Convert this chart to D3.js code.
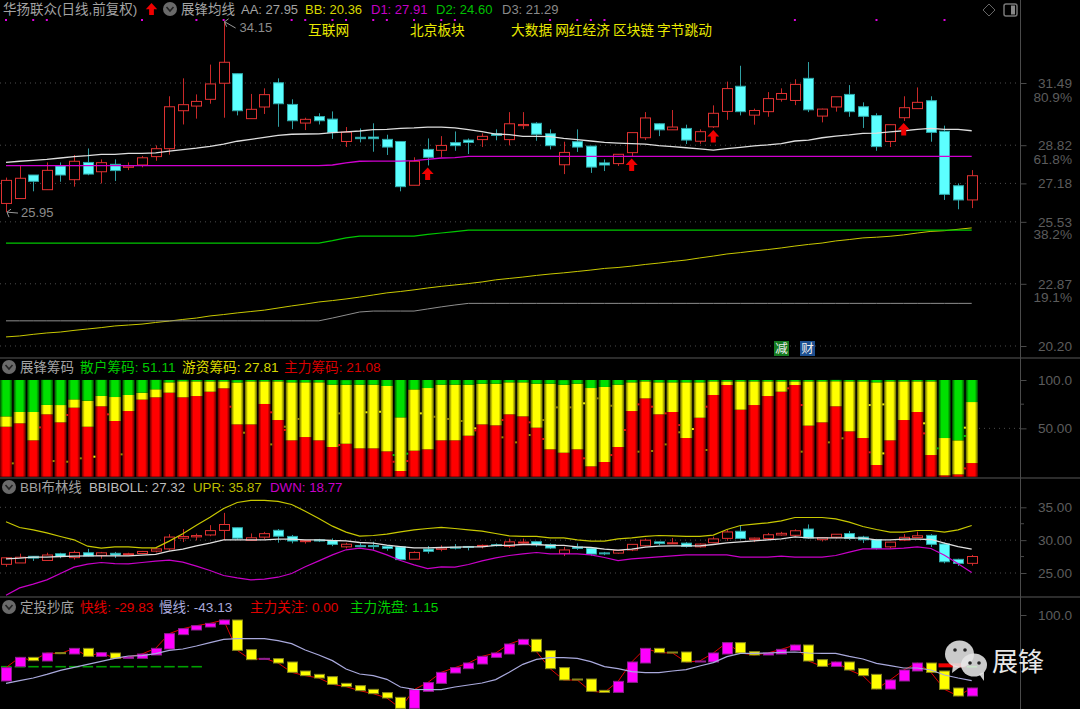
<!DOCTYPE html>
<html><head><meta charset="utf-8">
<script src="https://cdn.jsdelivr.net/npm/d3@7"></script>
<style>
html,body{margin:0;padding:0;background:#000;overflow:hidden}
svg{display:block;font-family:"Liberation Sans","Noto Sans CJK SC",sans-serif}
</style></head><body><svg id="c" width="1080" height="709"></svg>
<script>
// ---------- price panel ----------
const candleOpen=[26.32,26.53,27.54,26.91,27.93,27.34,28.08,27.68,28.00,27.87,27.97,28.33,28.67,30.30,30.50,30.79,31.48,31.89,29.96,30.46,31.50,30.57,29.77,30.05,29.94,28.98,29.16,29.17,29.07,28.98,27.10,28.64,28.60,28.93,29.04,29.06,29.31,29.06,29.66,29.76,29.31,27.98,28.97,28.78,28.06,28.03,28.50,29.14,29.74,29.48,29.54,28.99,29.61,30.27,31.35,30.11,30.26,30.79,30.74,31.69,30.07,30.46,31.00,30.47,30.09,28.98,30.00,30.39,30.73,29.42,27.08,26.47];
const candleClose=[27.31,27.40,27.27,27.74,27.54,28.13,27.58,28.07,27.73,27.93,28.28,28.67,30.47,30.56,30.70,31.45,32.38,30.30,30.36,30.99,30.60,29.87,29.93,29.87,29.36,29.38,29.10,29.10,28.74,27.04,28.13,28.30,28.81,28.80,28.94,29.20,29.24,29.74,29.71,29.29,28.80,28.51,28.74,27.88,27.97,28.43,29.36,29.99,29.48,29.60,29.04,29.40,30.19,31.25,30.26,30.31,30.82,31.04,31.43,30.34,30.37,30.90,30.26,30.06,28.76,29.70,30.43,30.66,29.37,26.71,26.47,27.51];
const candleHigh=[27.43,27.94,27.54,28.08,28.08,28.40,28.68,28.21,28.21,28.08,28.36,28.81,30.92,31.69,31.00,32.28,34.15,31.89,31.02,31.26,31.69,30.79,30.00,30.19,30.27,29.60,29.54,29.76,29.27,28.98,28.30,29.11,29.21,29.41,29.11,29.33,29.50,30.24,30.24,29.81,29.50,28.97,29.50,28.78,28.21,28.44,29.36,30.24,29.76,30.33,29.70,29.50,30.53,31.55,32.23,30.39,31.10,31.26,31.65,32.39,30.39,30.90,31.40,30.66,30.19,29.70,30.92,31.30,30.92,29.66,27.18,27.75];
const candleLow=[25.95,26.53,26.84,26.91,27.25,27.04,27.53,27.18,27.28,27.75,27.87,28.15,28.41,29.71,29.96,30.60,30.00,30.10,29.96,30.16,29.61,29.51,29.47,29.71,29.09,28.74,28.94,28.54,28.40,26.84,27.10,27.95,28.30,28.58,28.44,28.74,29.03,28.81,29.51,29.01,28.64,27.58,28.53,27.63,27.71,27.93,28.33,29.04,29.21,29.48,28.87,28.88,29.56,29.91,30.10,29.70,30.04,30.69,30.54,30.24,29.80,30.26,30.04,29.56,28.58,28.74,29.86,30.39,28.97,26.47,26.07,26.12];
const lineAA=[28.08,28.13,28.17,28.21,28.27,28.33,28.37,28.43,28.43,28.47,28.47,28.49,28.57,28.63,28.69,28.77,28.87,28.99,29.07,29.16,29.24,29.29,29.30,29.31,29.36,29.39,29.43,29.49,29.50,29.54,29.56,29.60,29.60,29.56,29.49,29.40,29.30,29.27,29.20,29.20,29.19,29.11,29.06,29.00,28.94,28.91,28.89,28.87,28.80,28.76,28.71,28.66,28.61,28.67,28.73,28.79,28.83,28.89,29.00,29.04,29.14,29.21,29.26,29.33,29.34,29.39,29.44,29.50,29.54,29.50,29.50,29.44];
const lineD1=[27.94,27.94,27.94,27.94,27.94,27.94,27.94,27.94,27.94,27.94,27.94,27.94,27.94,27.94,27.94,27.94,27.94,27.94,27.94,27.94,27.94,27.94,27.94,27.94,27.97,28.06,28.13,28.14,28.14,28.14,28.16,28.21,28.27,28.29,28.34,28.34,28.34,28.34,28.34,28.34,28.34,28.34,28.34,28.34,28.34,28.34,28.34,28.34,28.34,28.34,28.34,28.34,28.34,28.34,28.34,28.34,28.34,28.34,28.34,28.34,28.34,28.34,28.34,28.34,28.34,28.34,28.34,28.34,28.34,28.34,28.34,28.34];
const lineD2=[24.62,24.62,24.62,24.62,24.62,24.62,24.62,24.62,24.62,24.62,24.62,24.62,24.62,24.62,24.62,24.62,24.62,24.62,24.62,24.62,24.62,24.62,24.62,24.62,24.72,24.84,24.92,24.92,24.92,24.92,24.92,24.99,25.05,25.11,25.17,25.17,25.17,25.17,25.17,25.17,25.17,25.17,25.17,25.17,25.17,25.17,25.17,25.17,25.17,25.17,25.17,25.17,25.17,25.17,25.17,25.17,25.17,25.17,25.17,25.17,25.17,25.17,25.17,25.17,25.17,25.17,25.17,25.17,25.17,25.17,25.17,25.17];
const lineD3=[21.28,21.28,21.28,21.28,21.28,21.28,21.28,21.28,21.28,21.28,21.28,21.28,21.28,21.28,21.28,21.28,21.28,21.28,21.28,21.28,21.28,21.28,21.28,21.28,21.40,21.53,21.66,21.70,21.70,21.70,21.70,21.79,21.88,21.96,22.03,22.03,22.03,22.03,22.03,22.03,22.03,22.03,22.03,22.03,22.03,22.03,22.03,22.03,22.03,22.03,22.03,22.03,22.03,22.03,22.03,22.03,22.03,22.03,22.03,22.03,22.03,22.03,22.03,22.03,22.03,22.03,22.03,22.03,22.03,22.03,22.03,22.03];
const lineBB=[20.59,20.63,20.70,20.76,20.80,20.87,20.93,20.99,21.06,21.10,21.14,21.21,21.27,21.34,21.40,21.49,21.55,21.62,21.68,21.74,21.83,21.92,22.00,22.09,22.15,22.22,22.30,22.39,22.48,22.54,22.61,22.69,22.76,22.82,22.88,22.95,23.04,23.10,23.16,23.23,23.29,23.34,23.40,23.46,23.53,23.57,23.63,23.70,23.76,23.83,23.89,23.98,24.06,24.15,24.21,24.28,24.34,24.41,24.49,24.56,24.62,24.71,24.77,24.84,24.87,24.91,24.97,25.05,25.12,25.15,25.21,25.27];
const eventDays=[0,2,3,10,14,16,21,22,24,25,27,28,30,32,33,40,42,43,44,58,64,69];
const arrowDays=[31,46,52,66];
const conceptLabels=[["互联网",308],["北京板块",410],["大数据 网红经济 区块链 字节跳动",511]];
const priceTicks=[31.49,28.82,27.18,25.53,22.87,20.20];
const pctTicks=[[30.93,"80.9%"],[28.27,"61.8%"],[25.01,"38.2%"],[22.31,"19.1%"]];
// ---------- chip panel ----------
const chipMain=[51.7,55.2,37.6,64.5,56.2,71.4,51.7,72.8,57.6,67.9,79.7,82.1,86.9,82.1,83.4,87.9,91.4,54.1,54.1,75.2,58.6,37.6,41.0,37.6,30.7,34.1,29.3,29.3,26.2,5.9,26.9,28.3,37.6,37.6,42.4,54.1,53.1,64.5,62.4,50.7,28.3,24.8,28.3,10.7,15.2,30.7,67.9,81.0,64.5,66.9,40.0,61.0,84.5,94.8,69.3,74.1,83.4,87.9,94.8,52.8,56.2,72.8,46.9,40.0,12.1,37.6,58.6,66.9,22.4,1.4,2.4,14.1];
const chipHot=[10.7,11.7,29.3,9.7,17.9,8.6,26.9,10.7,24.8,16.6,7.2,8.3,10.7,16.6,15.2,10.7,7.2,43.4,44.5,23.4,40.0,60.0,56.6,60.0,64.5,61.0,65.9,65.9,67.6,55.5,63.4,63.4,57.6,57.6,52.8,42.1,43.1,33.1,35.2,45.5,67.9,70.3,67.9,81.0,77.6,64.5,29.7,17.6,33.1,30.7,57.6,36.6,14.1,3.8,29.3,24.5,15.2,10.7,3.8,45.8,42.4,25.9,51.7,58.6,85.5,61.0,40.0,31.7,76.2,38.6,35.2,63.1];
const chipRetail=[37.6,33.1,33.1,25.9,25.9,20.0,21.4,16.6,17.6,15.5,13.1,9.7,2.4,1.4,1.4,1.4,1.4,2.4,1.4,1.4,1.4,2.4,2.4,2.4,4.8,4.8,4.8,4.8,6.2,38.6,9.7,8.3,4.8,4.8,4.8,3.8,3.8,2.4,2.4,3.8,3.8,4.8,3.8,8.3,7.2,4.8,2.4,1.4,2.4,2.4,2.4,2.4,1.4,1.4,1.4,1.4,1.4,1.4,1.4,1.4,1.4,1.4,1.4,1.4,2.4,1.4,1.4,1.4,1.4,60.0,62.4,22.8];
const chipTicks=[100,50];
const speckDay=[2.5,4.5,7.5,6.5,8.5,0.5,4.5,3.5,5.5,16.5,17.5,19.5,19.5,20.5,20.5,21.5,24.5,24.5,26.5,27.5,28.5,28.5,29.5,29.5,30.5,31.5,32.5,33.5,34.5,34.5,36.5,36.5,37.5,38.5,38.5,39.5,39.5,40.5,41.5,42.5,42.5,43.5,44.5,44.5,45.5,46.5,46.5,47.5,47.5,48.5,48.5,49.5,49.5,50.5,51.5,51.5,57.5,58.5,58.5,60.5,61.5,63.5,64.5,63.5,64.5,67.5,67.5,68.5,70.5,70.5,70.5];
const speckValue=[51,63.8,64.5,20.7,23.1,13.8,15.5,16.2,19,72.4,45.5,33.4,66.6,51.7,48.3,59.7,65.5,32.8,66.6,67.2,22.4,15.5,23.8,16.2,65.5,62,59.7,57.6,50,47.9,58.6,40.7,35.5,56.2,43.1,58.6,39,71.7,71.7,75.9,19,81,73.4,22.4,48.3,74.8,25.9,72.4,26.6,65.5,33.4,53.4,45.9,49.3,72.4,27.6,91.4,74.1,25.9,35.5,39.7,74.1,74.8,25.2,24.1,55.2,44.8,29.3,50.7,42.1,8.6];
const speckKind=["r","r","r","y","o","o","o","o","o","r","o","o","r","o","r","o","o","r","y","y","g","r","g","r","y","o","o","o","y","r","r","o","o","r","o","o","r","o","o","y","r","o","o","r","r","r","o","r","o","r","o","r","o","y","r","o","r","r","o","o","o","y","y","r","y","y","r","g","y","g","r"];
// ---------- BBI panel ----------
const bbiMid=[27.16,27.26,27.41,27.41,27.51,27.56,27.61,27.61,27.61,27.61,27.71,27.82,28.32,28.63,29.13,29.54,30.05,30.05,30.05,30.05,30.15,30.15,30.05,30.05,29.95,29.90,29.64,29.54,29.24,29.03,28.83,28.83,28.88,28.93,28.98,28.98,29.19,29.19,29.34,29.34,29.19,29.19,28.98,28.88,28.63,28.48,28.63,28.93,29.08,29.13,29.13,29.13,29.34,29.59,29.74,29.90,30.05,30.20,30.51,30.35,30.35,30.35,30.35,30.30,30.05,30.05,30.15,30.15,30.10,29.54,29.03,28.63];
const bbiUpper=[32.79,31.93,31.57,31.11,30.56,30.05,29.08,28.78,28.98,28.98,28.83,28.83,29.85,30.96,32.28,33.50,34.82,35.73,36.04,36.04,35.89,35.43,34.41,33.30,32.13,31.22,30.61,30.71,30.91,31.27,31.57,31.77,31.93,31.77,31.57,31.37,31.01,30.66,30.56,30.56,30.35,30.35,30.05,29.85,29.85,30.20,30.35,30.56,30.71,30.66,30.56,30.56,30.76,31.62,32.23,32.43,32.64,32.94,33.45,33.45,33.45,33.25,32.74,32.08,31.62,31.22,31.22,31.47,31.47,31.22,31.57,32.23];
const bbiLower=[21.62,22.74,23.30,23.96,24.92,25.89,26.34,26.60,26.44,26.39,26.60,26.80,26.95,26.65,26.04,25.38,24.62,24.26,23.96,24.06,24.36,24.92,25.94,26.85,27.76,28.53,28.78,28.47,27.76,26.90,26.24,25.68,25.94,25.89,26.29,26.85,27.31,27.66,27.92,28.12,27.92,27.92,27.92,27.76,27.36,26.90,27.16,27.31,27.46,27.61,27.76,27.76,27.76,27.76,27.41,27.41,27.41,27.56,27.41,27.41,27.41,27.66,28.17,28.68,28.68,28.68,28.78,28.98,28.73,27.71,26.39,25.07];
const bbiTicks=[35,30,25];
// ---------- bottom panel ----------
const fastOpen=[-32,-3.3,15.3,8,24.7,22,33.3,17.3,24,13.3,13.3,20,32,60.7,70,76,81.3,90,30.7,11.3,12.7,6,-12,-18.7,-23.3,-36.7,-41.3,-48.7,-55.3,-64.7,-86.7,-52.7,-36.7,-16,-7.3,2,15.3,22,40.7,51.3,28.7,-5.3,-28,-28,-50.7,-54.7,-34.7,4,33.3,26,26,6,6,22,44.7,26.7,20,22,28.7,40,10.7,-2.7,6,-7.3,-18.7,-48,-32,-12,4,-12,-46,-62];
const fastClose=[-5.3,15.3,8.7,24,22.7,33.3,17.3,24.7,13.3,16,22,33.3,62.7,72.7,78.7,83.3,90,29.3,10.7,13.3,4,-14.7,-21.3,-26,-38.7,-43.3,-51.3,-57.3,-66,-86.7,-49.3,-35.3,-14.7,-5.3,4,17.3,24,42,51.3,26.7,-7.3,-30,-30,-52.7,-54.7,-32.7,6,33.3,24.7,24,6,8,24,44.7,24,20,24,31.3,40,8,-2.7,6,-10,-21.3,-48,-30,-10,4,-14.7,-48.7,-62,-46];
const slowLine=[-36.7,-31.3,-26,-18.7,-10.7,-4.7,1.3,7.3,13.3,18,18.7,22.7,29.3,32,38,44.7,51.3,52.7,52.7,52.7,48.7,42.7,30,20,8.7,-8,-18,-21.3,-28.7,-44,-48.7,-49.3,-49.3,-44,-40,-36,-29.3,-14.7,1.3,11.3,14.7,14.7,13.3,6.7,-3.3,-7.3,-13.3,-15.3,-15.3,-12,-9.3,-2,4.7,16.7,23.3,23.3,24,25.3,26,24,23.3,23.3,17.3,12,3.3,-1.3,-6,-6,-10,-20,-26,-31.3];
const washDays=[0,1,2,3,4,5,6,7,8,9,10,11,12,13,14,71];
const washLevel=-3.3;
const focusDays=[69,70];
const focusLevel=-0.7;
const bottomTicks=[100];

const W=1080,n=candleOpen.length,svg=d3.select("#c");
const CJK='"Noto Sans CJK SC","Liberation Sans",sans-serif';
svg.append("rect").attr("width",W).attr("height",709).attr("fill","#000");
const x=d3.scaleLinear().domain([0,71]).range([6,971.7]);
const yP=d3.scaleLinear().domain([31.49,20.20]).range([83,346]);
const yC=d3.scaleLinear().domain([100,0]).range([380,476.7]);
const yB=d3.scaleLinear().domain([35,25]).range([507.3,573]);
const yF=d3.scaleLinear().domain([100,0]).range([615,665]);
const defs=svg.append("defs");
[["gr","#5a0000","#ff0000"],["gy","#5e5e00","#ffff00"],["gg","#004c00","#00e000"]].forEach(([id,e,c])=>{
  const g=defs.append("linearGradient").attr("id",id);
  [[0,e],[.25,c],[.75,c],[1,e]].forEach(([o,k])=>g.append("stop").attr("offset",o).attr("stop-color",k));
});
// frames
const frame=svg.append("g").attr("stroke","#2c2c2c").attr("stroke-width",2);
[358,478,597].forEach(y=>frame.append("line").attr("x1",0).attr("x2",W).attr("y1",y).attr("y2",y));
svg.append("line").attr("x1",1020.5).attr("x2",1020.5).attr("y1",0).attr("y2",709).attr("stroke","#4a4a4a");
// grids + axes
function grid(vals,s,x1=0,x2=1020){svg.append("g").selectAll("line").data(vals).join("line")
  .attr("x1",x1).attr("x2",x2).attr("y1",d=>s(d)).attr("y2",d=>s(d))
  .attr("stroke","#4c4c4c").attr("stroke-dasharray","1 4");}
function axis(s,vals,fmt){
  const g=svg.append("g").attr("transform","translate(1020.5,0)")
    .call(d3.axisRight(s).tickValues(vals).tickFormat(fmt).tickSize(6).tickSizeOuter(0));
  g.select(".domain").remove();
  g.selectAll("line").attr("stroke","#4a4a4a");
  g.selectAll("text").attr("x",51.5).attr("text-anchor","end").attr("fill","#5c5c5c").attr("font-size",13.6)
    .attr("font-family",'"Liberation Sans",sans-serif');
}
grid(priceTicks,yP);grid(chipTicks.slice(1),yC,979);grid(bbiTicks,yB);
axis(yP,priceTicks,d3.format(".2f"));
axis(yC,chipTicks,d=>d==100?"100.0":"50.00");
axis(yB,bbiTicks,d3.format(".2f"));
axis(yF,bottomTicks,()=>"100.0");
svg.append("g").selectAll("text").data(pctTicks).join("text").attr("x",1072).attr("y",d=>yP(d[0])+5.5).attr("text-anchor","end")
  .attr("fill","#5c5c5c").attr("font-size",13.6).text(d=>d[1]);
// minor ticks
[[yC,[75]],[yB,[32.5,27.5]]].forEach(([s,v])=>svg.append("g").selectAll("line").data(v).join("line")
  .attr("x1",1021).attr("x2",1024).attr("y1",d=>s(d)).attr("y2",d=>s(d)).attr("stroke","#4a4a4a"));

const lineOf=(arr,s)=>d3.line().x((d,i)=>x(i)).y(d=>s(d))(arr);
function drawLine(arr,s,c,w=1.2){svg.append("path").attr("d",lineOf(arr,s)).attr("fill","none").attr("stroke",c).attr("stroke-width",w);}
function candles(s){
  const idx=d3.range(n),g=svg.append("g");
  g.selectAll("line").data(idx).join("line").attr("x1",i=>Math.round(x(i))+.5).attr("x2",i=>Math.round(x(i))+.5)
    .attr("y1",i=>s(candleHigh[i])).attr("y2",i=>s(candleLow[i]))
    .attr("stroke",i=>candleClose[i]>=candleOpen[i]?"#c82828":"#2f9fa3").attr("stroke-width",1);
  g.selectAll("rect").data(idx).join("rect")
    .attr("x",i=>Math.round(x(i))-4.5).attr("width",10)
    .attr("y",i=>s(Math.max(candleOpen[i],candleClose[i])))
    .attr("height",i=>Math.max(1,Math.abs(s(candleOpen[i])-s(candleClose[i]))))
    .attr("fill",i=>candleClose[i]>=candleOpen[i]?"#000":"#5cffff")
    .attr("stroke",i=>candleClose[i]>=candleOpen[i]?"#e03232":"#2fa8aa").attr("stroke-width",1);
}
// price
drawLine(lineBB,yP,"#c8c800",1);
drawLine(lineD3,yP,"#8e8e8e",1);
drawLine(lineD2,yP,"#00c800",1.2);
candles(yP);
drawLine(lineAA,yP,"#dedede",1.3);
drawLine(lineD1,yP,"#d000d0",1.3);
svg.append("g").selectAll("rect").data(eventDays).join("rect").attr("x",d=>x(d)-1).attr("y",19).attr("width",2).attr("height",2).attr("fill","#e000e0");
function arrowPath(cx,top,s=1){const p=d3.path();p.moveTo(cx,top);p.lineTo(cx+6*s,top+6.5*s);p.lineTo(cx+2.5*s,top+6.5*s);p.lineTo(cx+2.5*s,top+12.5*s);
  p.lineTo(cx-2.5*s,top+12.5*s);p.lineTo(cx-2.5*s,top+6.5*s);p.lineTo(cx-6*s,top+6.5*s);p.closePath();return p.toString();}
svg.append("g").selectAll("path").data(arrowDays).join("path").attr("d",d=>arrowPath(x(d),yP(candleLow[d])+2)).attr("fill","#f00000");
conceptLabels.forEach(([t,px])=>svg.append("text").attr("x",px).attr("y",35).attr("fill","#e8e800").attr("font-size",13.7).attr("font-family",CJK).text(t));
// high / low notes
const hi=16,lo=0;
function note(i,val,dx,dy){
  const px=x(i),py=yP(val);
  const g=svg.append("g").attr("stroke","#999").attr("fill","none");
  g.append("path").attr("d",`M${px+1},${py+dy*.1}L${px+12},${py+dy}M${px+1},${py+dy*.1}l4,-3M${px+1},${py+dy*.1}l2,5`);
  svg.append("text").attr("x",px+dx).attr("y",py+dy+4).attr("fill","#8c8c8c").attr("font-size",13).text(d3.format(".2f")(val));
}
note(hi,candleHigh[hi],16,7);
note(lo,candleLow[lo],15,1);
// badges
[["减",774,"#157a20"],["财",800,"#1c4f90"]].forEach(([t,px,c])=>{
  svg.append("rect").attr("x",px).attr("y",341).attr("width",15).attr("height",15).attr("fill",c);
  svg.append("text").attr("x",px+7.5).attr("y",353).attr("text-anchor","middle").attr("fill","#eee").attr("font-size",12.5).attr("font-family",CJK).text(t);
});
// chips
const rows=d3.range(n).map(i=>({i,main:chipMain[i],hot:chipHot[i],retail:chipRetail[i]}));
const stack=d3.stack().keys(["main","hot","retail"])(rows);
const fills={main:"url(#gr)",hot:"url(#gy)",retail:"url(#gg)"};
svg.append("g").selectAll("g").data(stack).join("g").attr("fill",d=>fills[d.key])
 .selectAll("rect").data(d=>d).join("rect")
 .attr("x",d=>x(d.data.i)-6).attr("width",12.2)
 .attr("y",d=>yC(d[1])).attr("height",d=>Math.max(0,yC(d[0])-yC(d[1])));
const speckColor={r:"#e81010",y:"#f0f000",o:"#9a8a00",g:"#00c000"};
svg.append("g").selectAll("rect").data(speckDay).join("rect")
  .attr("x",d=>x(d)-1).attr("width",2).attr("height",2)
  .attr("y",(d,i)=>yC(speckValue[i])-1).attr("fill",(d,i)=>speckColor[speckKind[i]]);
// BBI
candles(yB);
drawLine(bbiMid,yB,"#e0e0e0",1.3);
drawLine(bbiUpper,yB,"#c8c800",1.2);
drawLine(bbiLower,yB,"#c800c8",1.2);
// bottom panel
svg.append("g").selectAll("rect").data(washDays).join("rect").attr("x",d=>x(d)-5).attr("width",10.5)
  .attr("y",yF(washLevel)-.75).attr("height",1.6).attr("fill",d=>d==71?"#00e000":"#00a000");
svg.append("g").selectAll("rect").data(focusDays).join("rect").attr("x",d=>x(d)-6).attr("width",13.6)
  .attr("y",yF(focusLevel)-2).attr("height",4).attr("fill","#f00000");
drawLine(fastClose,yF,"#e00000",1);
svg.append("g").selectAll("rect").data(d3.range(n)).join("rect")
  .attr("x",i=>Math.round(x(i))-4.5).attr("width",10)
  .attr("y",i=>yF(Math.max(fastOpen[i],fastClose[i])))
  .attr("height",i=>Math.max(1,Math.abs(yF(fastOpen[i])-yF(fastClose[i]))))
  .attr("fill",i=>fastClose[i]>=fastOpen[i]?"#ff00ff":"#ffff00")
  .attr("stroke",i=>fastClose[i]>=fastOpen[i]?"#8e1f8e":"#85851a").attr("stroke-width",1);
drawLine(slowLine,yF,"#a9a9dc",1.2);
// legends
function btn(y){svg.append("circle").attr("cx",9).attr("cy",y).attr("r",7).attr("fill","#6a6a6a");
  svg.append("path").attr("d",`M5.5,${y-2}L9,${y+2}L12.5,${y-2}`).attr("fill","none").attr("stroke","#222").attr("stroke-width",1.6);}
function legend(items,y){items.forEach(([t,px,c,fs])=>svg.append("text").attr("x",px).attr("y",y).attr("fill",c).attr("font-size",fs||13).text(t));}
const legendGrey="#a3a3a3";
svg.append("circle").attr("cx",170).attr("cy",9).attr("r",7).attr("fill","#6a6a6a");
svg.append("path").attr("d","M166.5,7L170,11L173.5,7").attr("fill","none").attr("stroke","#222").attr("stroke-width",1.6);
svg.append("path").attr("d",arrowPath(151.5,3,.95)).attr("fill","#f00000");
legend([["华扬联众(日线,前复权)",3,legendGrey,13.5],["展锋均线",181,legendGrey,13.5],["AA: 27.95",241,legendGrey],["BB: 20.36",305,"#d8d800"],["D1: 27.91",371,"#c400c4"],["D2: 24.60",436,"#00c000"],["D3: 21.29",502,"#8a8a8a"]],14);
btn(367);
legend([["展锋筹码",20,legendGrey,13.5],["散户筹码: 51.11",80,"#00c800",13.7],["游资筹码: 27.81",182,"#d8d800",13.7],["主力筹码: 21.08",284,"#d80000",13.7]],372);
btn(487);
legend([["BBI布林线",20,legendGrey,13.4],["BBIBOLL: 27.32",89,"#bdbdbd",13.3],["UPR: 35.87",193,"#bcbc00",13.3],["DWN: 18.77",270,"#c800c8",13.3]],492);
btn(607);
legend([["定投抄底",20,legendGrey,13.5],["快线: -29.83",80,"#e00000",13.6],["慢线: -43.13",159,"#a9a9dc",13.6],["主力关注: 0.00",250,"#e00000",13.6],["主力洗盘: 1.15",350,"#00d000",13.6]],612);
// top-right icons
svg.append("path").attr("d","M989,4L995,10L989,16L983,10Z").attr("fill","none").attr("stroke","#666");
svg.append("rect").attr("x",1004).attr("y",4).attr("width",13).attr("height",12).attr("rx",2).attr("fill","none").attr("stroke","#777").attr("stroke-width",1.5);
svg.append("rect").attr("x",1011).attr("y",5.5).attr("width",4).attr("height",9).attr("fill","#888");
// watermark
const wm=svg.append("g");
function bubble(cx,cy,rx,ry,tail){
  wm.append("ellipse").attr("cx",cx).attr("cy",cy).attr("rx",rx).attr("ry",ry).attr("fill","#e6e6e6").attr("fill-opacity",.88);
  wm.append("path").attr("d",tail).attr("fill","#e6e6e6").attr("fill-opacity",.88);
}
bubble(959.5,654,14.5,13.5,"M953,665l-1,8l8,-6z");
bubble(974,665,13,11.5,"M979,674l5,7l0,-9z");
[[955,650],[965,650],[970,663],[979,663]].forEach(([a,b])=>wm.append("circle").attr("cx",a).attr("cy",b).attr("r",1.8).attr("fill","#222"));
wm.append("text").attr("x",992).attr("y",671).attr("fill","#e8e8e8").attr("font-size",26).attr("font-family",CJK).text("展锋");
</script></body></html>
